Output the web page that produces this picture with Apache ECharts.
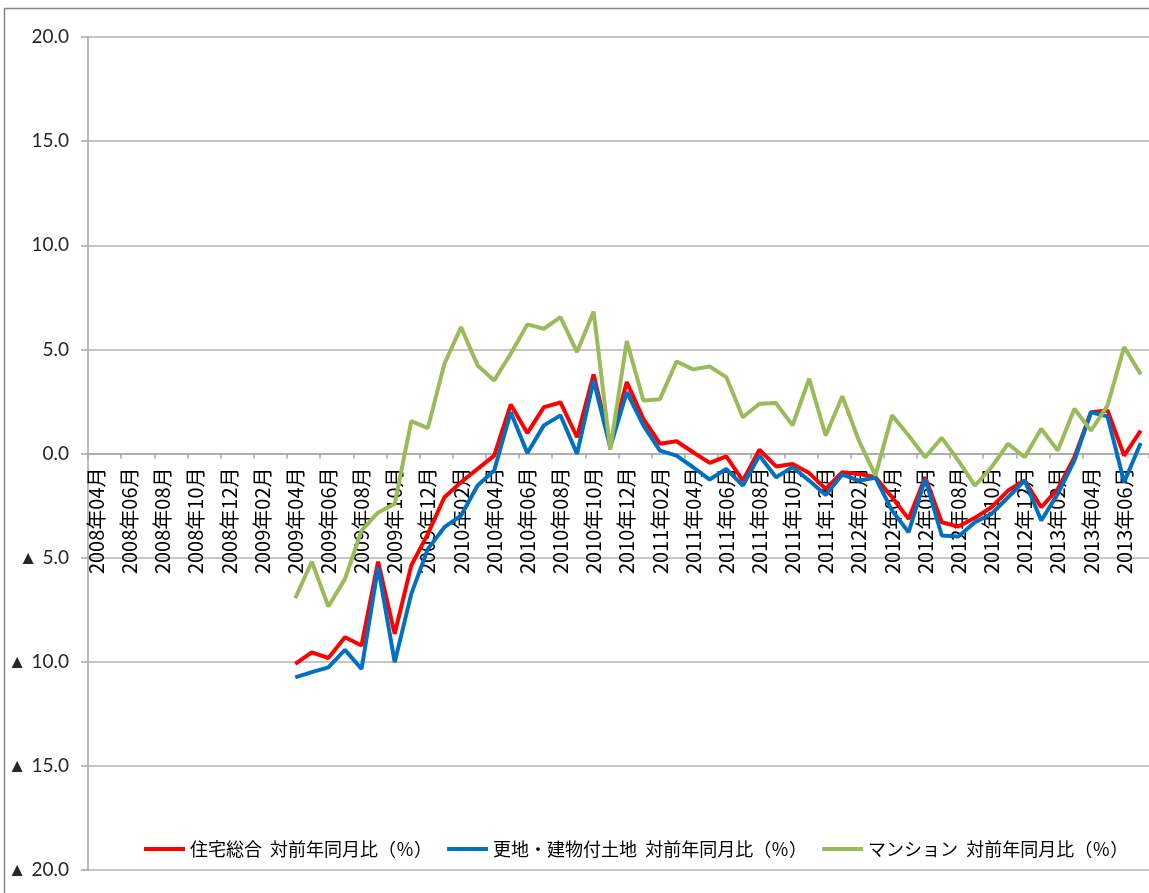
<!DOCTYPE html>
<html>
<head>
<meta charset="utf-8">
<script src="https://cdn.jsdelivr.net/npm/echarts@6/dist/echarts.min.js"></script>
<style>
  html, body { margin: 0; padding: 0; background: #fff; }
  #chart { width: 1149px; height: 893px; }
</style>
</head>
<body>
<div id="chart"></div>
<script>
// months 2008年04月 .. 2013年07月
const months = [
  '2008年04月','2008年05月','2008年06月','2008年07月','2008年08月','2008年09月','2008年10月','2008年11月','2008年12月',
  '2009年01月','2009年02月','2009年03月','2009年04月','2009年05月','2009年06月','2009年07月','2009年08月','2009年09月',
  '2009年10月','2009年11月','2009年12月','2010年01月','2010年02月','2010年03月','2010年04月','2010年05月','2010年06月',
  '2010年07月','2010年08月','2010年09月','2010年10月','2010年11月','2010年12月','2011年01月','2011年02月','2011年03月',
  '2011年04月','2011年05月','2011年06月','2011年07月','2011年08月','2011年09月','2011年10月','2011年11月','2011年12月',
  '2012年01月','2012年02月','2012年03月','2012年04月','2012年05月','2012年06月','2012年07月','2012年08月','2012年09月',
  '2012年10月','2012年11月','2012年12月','2013年01月','2013年02月','2013年03月','2013年04月','2013年05月','2013年06月',
  '2013年07月'
]

const seriesNames = [
  '住宅総合  対前年同月比（％）',
  '更地・建物付土地  対前年同月比（％）',
  'マンション  対前年同月比（％）',
]

// no data before 2009年04月
const empty = Array(12).fill(null)

const housing = empty.concat([
  -10.1, -9.55, -9.82, -8.82, -9.22, -5.19, -8.66, -5.38, -3.86, -2.10, -1.38, -0.74,
  -0.10, 2.35, 0.98, 2.23, 2.45, 0.78, 3.80, 0.45, 3.43, 1.66, 0.47, 0.59,
  0.06, -0.45, -0.14, -1.30, 0.18, -0.62, -0.50, -0.94, -1.70, -0.90, -0.98, -1.14,
  -2.10, -3.14, -1.14, -3.30, -3.51, -3.09, -2.58, -1.78, -1.30, -2.58, -1.70, -0.18,
  1.98, 2.07, -0.10, 1.10,
])

const land = empty.concat([
  -10.75, -10.5, -10.27, -9.43, -10.35, -5.46, -10.02, -6.74, -4.58, -3.54, -2.98, -1.54,
  -0.82, 1.98, 0.02, 1.35, 1.83, -0.02, 3.51, 0.30, 2.95, 1.35, 0.14, -0.10,
  -0.66, -1.25, -0.74, -1.54, -0.10, -1.14, -0.66, -1.30, -1.99, -1.01, -1.30, -1.16,
  -2.74, -3.78, -1.22, -3.94, -3.99, -3.30, -2.90, -2.10, -1.30, -3.22, -1.94, -0.34,
  1.98, 1.78, -1.38, 0.50,
])

const mansion = empty.concat([
  -6.95, -5.19, -7.35, -6.02, -3.70, -2.83, -2.42, 1.55, 1.22, 4.31, 6.07, 4.23,
  3.51, 4.79, 6.20, 5.99, 6.55, 4.87, 6.82, 0.18, 5.40, 2.55, 2.61, 4.42,
  4.04, 4.18, 3.67, 1.74, 2.39, 2.42, 1.35, 3.59, 0.86, 2.75, 0.62, -1.06,
  1.83, 0.86, -0.18, 0.75, -0.34, -1.54, -0.66, 0.47, -0.18, 1.19, 0.14, 2.15,
  1.10, 2.31, 5.11, 3.80,
])

const colors = ['#ff0000', '#0070c0', '#9bbb59']

const chart = echarts.init(document.getElementById('chart'))

function lineSeries(name, data, color) {
  return {
    name,
    type: 'line',
    data,
    symbol: 'none',
    connectNulls: false,
    lineStyle: { color, width: 4 },
    itemStyle: { color },
  }
}

const gridTop = 37
const gridBottom = 23
const plotH = 893 - gridTop - gridBottom
// category axis sits on the 0 line, halfway down the plot
const zeroOffset = -plotH / 2

const option = {
  animation: false,
  textStyle: { fontFamily: '"Noto Sans CJK JP", sans-serif' },
  graphic: [
    {
      type: 'rect',
      shape: { x: 4.5, y: 8.5, width: 1160, height: 900 },
      style: { fill: 'none', stroke: '#868686', lineWidth: 1.5 },
      silent: true,
      z: -1,
    },
  ],
  grid: {
    left: 88,
    right: 0,
    top: gridTop,
    bottom: gridBottom,
    containLabel: false,
    outerBoundsMode: 'none',
  },
  legend: {
    left: 139,
    top: 835,
    icon: 'rect',
    itemWidth: 41,
    itemHeight: 4,
    itemGap: 15,
    textStyle: {
      color: '#000',
      fontSize: 18,
      fontFamily: '"Noto Sans CJK JP", sans-serif',
    },
    data: seriesNames,
  },
  xAxis: {
    type: 'category',
    data: months,
    boundaryGap: true,
    position: 'bottom',
    offset: zeroOffset,
    axisLine: { onZero: false, lineStyle: { color: '#a6a6a6', width: 1.5 } },
    axisTick: {
      show: true,
      interval: 1,
      length: 5,
      lineStyle: { color: '#a6a6a6', width: 1.5 },
    },
    axisLabel: {
      interval: 1,
      rotate: 90,
      margin: 14,
      color: '#000',
      fontSize: 20,
      fontFamily: '"Noto Sans CJK JP", sans-serif',
    },
    splitLine: { show: false },
  },
  yAxis: {
    type: 'value',
    min: -20,
    max: 20,
    interval: 5,
    axisLine: { show: true, lineStyle: { color: '#a6a6a6', width: 1.5 } },
    axisTick: { show: true, inside: false, length: 7, lineStyle: { color: '#a6a6a6', width: 1.5 } },
    splitLine: { lineStyle: { color: '#b3b3b3', width: 1.5 } },
    axisLabel: {
      margin: 19,
      color: '#262626',
      fontSize: 19,
      fontFamily: 'Lato, "Noto Sans", sans-serif',
      formatter: (v) => v < 0 ? '▲ ' + Math.abs(v).toFixed(1) : v.toFixed(1),
    },
  },
  series: [
    lineSeries(seriesNames[0], housing, colors[0]),
    lineSeries(seriesNames[1], land, colors[1]),
    lineSeries(seriesNames[2], mansion, colors[2]),
  ],
}

chart.setOption(option)
</script>
</body>
</html>
